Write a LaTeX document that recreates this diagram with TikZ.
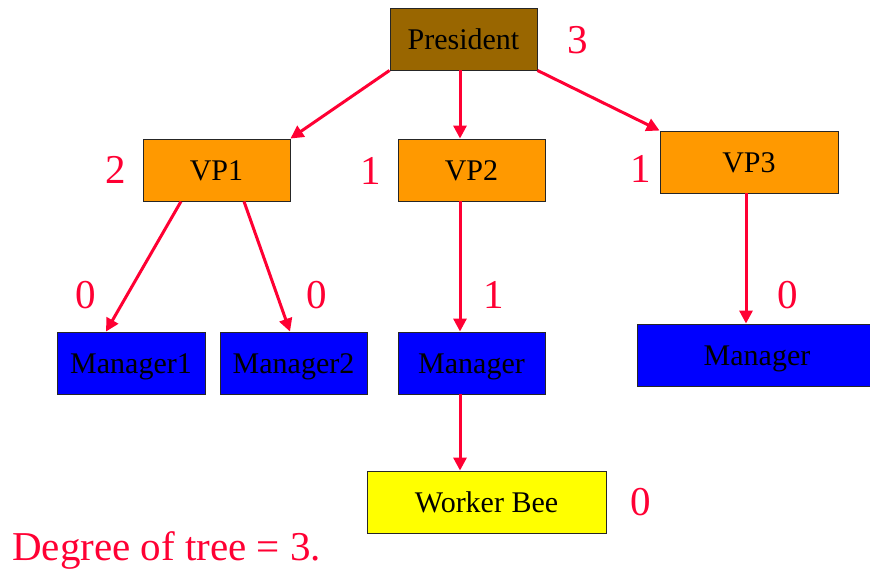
\documentclass[tikz,border=0pt]{standalone}
\usepackage{fontspec}
\setmainfont{Liberation Serif}
\usetikzlibrary{arrows.meta}
\definecolor{pbrown}{RGB}{153,102,0}
\definecolor{porange}{RGB}{255,153,0}
\definecolor{pblue}{RGB}{0,0,255}
\definecolor{pyellow}{RGB}{255,255,0}
\definecolor{pred}{RGB}{255,0,51}
\tikzset{
  box/.style={draw=black!85, line width=0.9pt, inner sep=0pt, minimum height=62pt,
    text height=20pt, text depth=0pt,
    font=\fontsize{30}{30}\selectfont, text=black},
  lab/.style={inner sep=0pt, text=pred, font=\fontsize{41}{41}\selectfont},
  edge/.style={draw=pred, line width=3pt, -{Triangle[length=13pt,width=13pt]}}
}
\begin{document}
\begin{tikzpicture}[x=1pt,y=-1pt]
\useasboundingbox (0,0) rectangle (870,571);
\clip (0,0) rectangle (870,571);
\node[box, fill=pbrown, minimum width=147pt] (pres) at (463.5,39) {President};
\node[box, fill=porange, minimum width=147pt] (vp1) at (216.5,170) {VP1};
\node[box, fill=porange, minimum width=147pt] (vp2) at (471.5,170) {VP2};
\node[box, fill=porange, minimum width=178pt] (vp3) at (749,162) {VP3};
\node[box, fill=pblue, minimum width=148pt] (m1) at (131,363) {Manager1};
\node[box, fill=pblue, minimum width=147pt] (m2) at (293.5,363) {Manager2};
\node[box, fill=pblue, minimum width=147pt] (m) at (471.5,363) {Manager};
\node[box, fill=pblue, minimum width=240pt] (m3) at (757,355) {Manager};
\node[box, fill=pyellow, minimum width=239pt] (wb) at (486.5,502) {Worker Bee};

\node[lab] (l3) at (578,40) {3};
\node[lab] (l2) at (116,170) {2};
\node[lab] (l1a) at (371,171) {1};
\node[lab] (l1b) at (641,169) {1};
\node[lab] (l0a) at (86,295) {0};
\node[lab] (l0b) at (317,295) {0};
\node[lab] (l1c) at (494,295) {1};
\node[lab] (l0c) at (788,295) {0};
\node[lab] (l0d) at (641,502) {0};
\node[lab, anchor=base west] (deg) at (12,560) {Degree of tree = 3.};

\draw[edge] (pres.south west) -- (vp1.north east);
\draw[edge] ([xshift=-3.5pt]pres.south) -- ([xshift=-11.5pt]vp2.north);
\draw[edge] (pres.south east) -- (vp3.north west);
\draw[edge] ([xshift=-35.5pt]vp1.south) -- ([xshift=-25pt]m1.north);
\draw[edge] ([xshift=27.5pt]vp1.south) -- ([xshift=-3.5pt]m2.north);
\draw[edge] ([xshift=-11.5pt]vp2.south) -- ([xshift=-11.5pt]m.north);
\draw[edge] ([xshift=-3pt]vp3.south) -- ([xshift=-11pt]m3.north);
\draw[edge] ([xshift=-11.5pt]m.south) -- ([xshift=-26.5pt]wb.north);
\end{tikzpicture}
\end{document}
